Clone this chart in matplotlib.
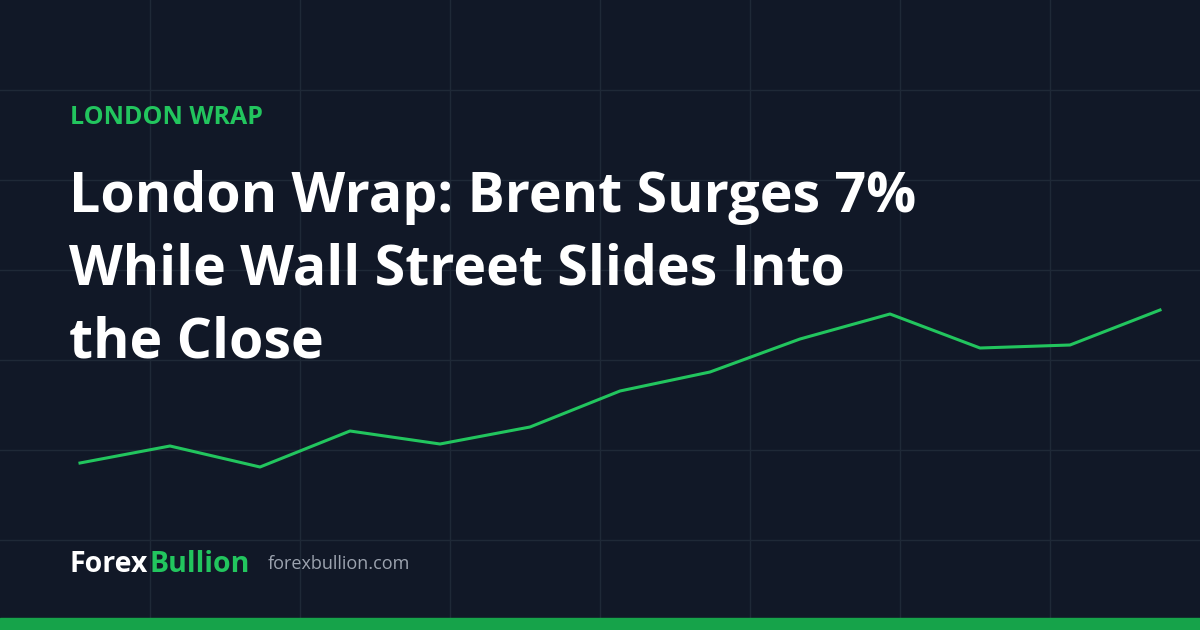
import matplotlib.pyplot as plt
import numpy as np

bg = '#111827'
green = '#22c55e'

# series (price index, arbitrary units)
points = np.arange(13)
values = [167, 184, 163, 199, 186, 203, 239, 258, 291, 316, 282, 285, 320]

kicker = 'LONDON WRAP'
title = 'London Wrap: Brent Surges 7%\nWhile Wall Street Slides Into\nthe Close'

fig = plt.figure(figsize=(12, 6.3), dpi=100, facecolor=bg)
ax = fig.add_axes([0, 0, 1, 1], facecolor=bg)
ax.set_xlim(0, 1200)
ax.set_ylim(0, 630)
ax.set_xticks(np.arange(150, 1200, 150))
ax.set_yticks(np.arange(90, 630, 90))
ax.grid(color='#1f2937', linewidth=1)
ax.set_axisbelow(True)
ax.tick_params(length=0, labelbottom=False, labelleft=False)
for s in ax.spines.values():
    s.set_visible(False)

ax.plot(80 + points * 90, values, color=green, linewidth=2.2)

# bottom accent bar
ax.axhspan(0, 12, color='#16a34a', zorder=5)

font = ['Open Sans', 'DejaVu Sans']
ax.text(70, 630 - 117, kicker, color=green, fontsize=18, fontweight='bold',
        family=font, va='center')
ax.text(69, 630 - 170, title, color='white', fontsize=40, fontweight='bold',
        family=font, va='top', linespacing=1.42)
t = ax.text(70, 630 - 564, 'Forex', color='white', fontsize=20.5, fontweight='bold',
            family=font, va='center')
fig.canvas.draw()
bb = t.get_window_extent()
ax.text(bb.x1 + 1, 630 - 564, 'Bullion', color=green, fontsize=20.5, fontweight='bold',
        family=font, va='center')
ax.text(268, 630 - 564, 'forexbullion.com', color='#9ca3af', fontsize=13,
        family=font, va='center')

fig.savefig('out.png', dpi=100, facecolor=bg)
